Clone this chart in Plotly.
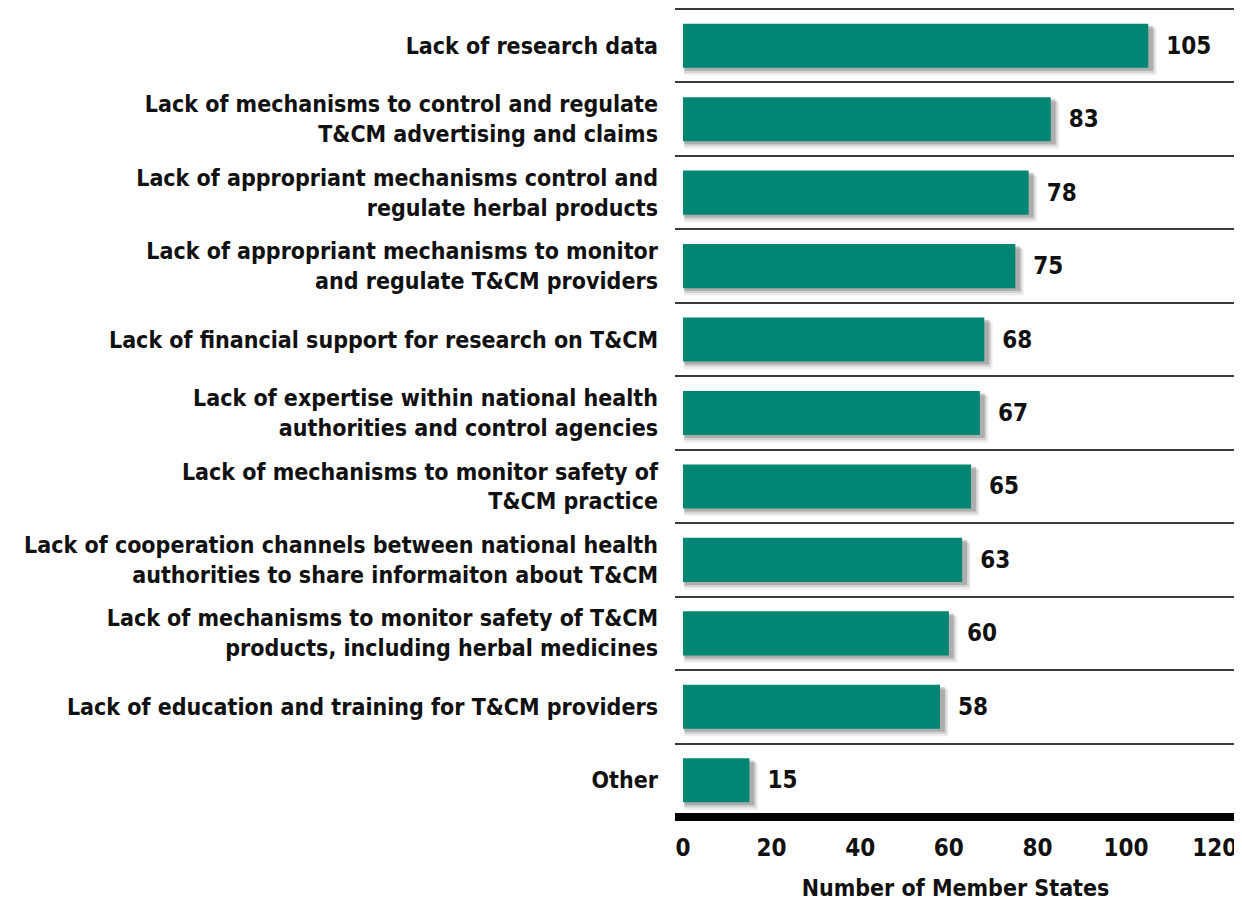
import plotly.graph_objects as go

categories = [
    "Lack of research data",
    "Lack of mechanisms to control and regulate<br>T&CM advertising and claims",
    "Lack of appropriant mechanisms control and<br>regulate herbal products",
    "Lack of appropriant mechanisms to monitor<br>and regulate T&CM providers",
    "Lack of financial support for research on T&CM",
    "Lack of expertise within national health<br>authorities and control agencies",
    "Lack of mechanisms to monitor safety of<br>T&CM practice",
    "Lack of cooperation channels between national health<br>authorities to share informaiton about T&CM",
    "Lack of mechanisms to monitor safety of T&CM<br>products, including herbal medicines",
    "Lack of education and training for T&CM providers",
    "Other",
]
values = [105, 83, 78, 75, 68, 67, 65, 63, 60, 58, 15]
x_ticks = [0, 20, 40, 60, 80, 100, 120]

FONT = "Liberation Sans Narrow, DejaVu Sans Condensed, Arial Narrow, sans-serif"
BAR_COLOR = "#008673"
TXT = "#111111"

fig = go.Figure()

# soft drop shadow layers
for dx, off, w, a in [(1.6, -0.23, 0.63, 0.07), (1.2, -0.25, 0.62, 0.11), (0.8, -0.27, 0.61, 0.18)]:
    fig.add_trace(go.Bar(
        y=categories, x=[v + dx for v in values], base=0.3,
        orientation="h", width=w, offset=off,
        marker=dict(color=f"rgba(0,0,0,{a})", line=dict(width=0)),
        hoverinfo="skip", showlegend=False,
    ))

fig.add_trace(go.Bar(
    y=categories, x=values, orientation="h", width=0.6, offset=-0.3,
    marker=dict(color=BAR_COLOR, line=dict(width=0)),
    text=[f"\u00a0\u00a0{v}" for v in values],
    textposition="outside",
    textfont=dict(family=FONT, size=24, color=TXT, weight="bold"),
    cliponaxis=False,
    showlegend=False,
))

# the page adds an 8px body margin, so size the figure to land on the reference grid
fig.update_layout(
    barmode="overlay",
    width=1234, height=894,
    margin=dict(l=667, r=6, t=1, b=85),
    plot_bgcolor="white", paper_bgcolor="white",
    font=dict(family=FONT, size=23, color=TXT, weight="bold"),
    shapes=[
        dict(type="line", xref="paper", yref="paper", x0=0, x1=1, y0=1, y1=1,
             line=dict(color="#3a3a3a", width=2)),
        dict(type="line", xref="paper", yref="paper", x0=0, x1=1, y0=0, y1=0,
             line=dict(color="black", width=8)),
    ],
)
fig.update_yaxes(
    autorange="reversed", tickson="boundaries", showgrid=True,
    gridcolor="#3a3a3a", gridwidth=2, ticks="", ticklabelstandoff=16,
    tickfont=dict(family=FONT, size=23, color=TXT, weight="bold"),
    automargin=False, showline=False, zeroline=False,
)
fig.update_xaxes(
    range=[-1.8, 124.8], tickvals=x_ticks, showgrid=False, zeroline=False,
    showline=False, ticks="", ticklabelstandoff=14,
    tickfont=dict(family=FONT, size=24, color=TXT, weight="bold"),
    title=dict(text="Number of Member States", standoff=18,
               font=dict(family=FONT, size=23, color=TXT, weight="bold")),
    automargin=False,
)

fig.write_html("out.html")
